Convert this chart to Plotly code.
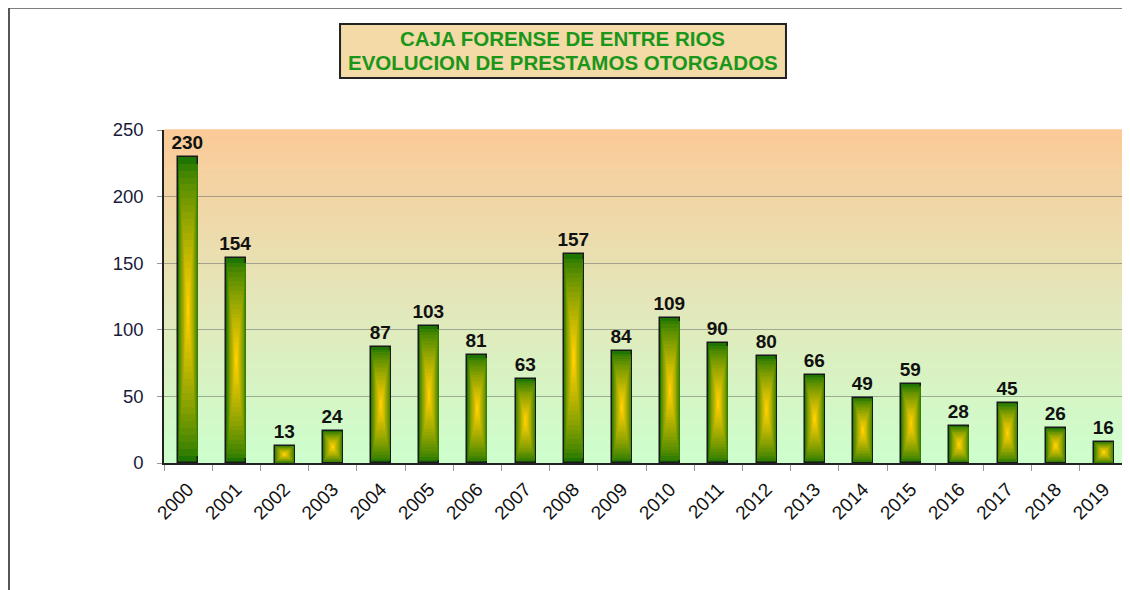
import plotly.graph_objects as go

years = [str(y) for y in range(2000, 2020)]
prestamos = [230, 154, 13, 24, 87, 103, 81, 63, 157, 84, 109, 90, 80, 66, 49, 59, 28, 45, 26, 16]
y_ticks = [0, 50, 100, 150, 200, 250]
title_lines = ["CAJA FORENSE DE ENTRE RIOS", "EVOLUCION DE PRESTAMOS OTORGADOS"]


def lerp(c1, c2, t):
    return "rgb(%d,%d,%d)" % tuple(round(a + (b - a) * t) for a, b in zip(c1, c2))


fig = go.Figure()

# bars drawn as concentric layers to imitate the centre-out gradient fill
n_layers = 22
bar_w = 0.415
edge = (30, 118, 0)
centre = (255, 208, 0)
for k in range(n_layers):
    frac = k / n_layers
    t = (k / (n_layers - 1)) ** 0.75
    fig.add_trace(go.Bar(
        x=years,
        y=[v * (1 - frac) for v in prestamos],
        base=[v * frac / 2 for v in prestamos],
        width=bar_w * (1 - frac),
        marker=dict(color=lerp(edge, centre, t),
                    line=dict(color="#1a1a1a", width=1.5 if k == 0 else 0)),
        text=[str(v) for v in prestamos] if k == 0 else None,
        textposition="outside" if k == 0 else None,
        textfont=dict(family="Arial", size=19, color="#111111"),
        texttemplate="<b>%{text}</b>" if k == 0 else None,
        constraintext="none",
        cliponaxis=False,
        showlegend=False,
        hoverinfo="skip",
    ))

# plot-area background gradient (peach at top to pale green at bottom)
top_c = (251, 202, 152)
mid_c = (228, 230, 185)
bot_c = (204, 255, 204)
strips = 60
for i in range(strips):
    t = i / (strips - 1)
    if t < 0.5:
        col = lerp(bot_c, mid_c, t / 0.5)
    else:
        col = lerp(mid_c, top_c, (t - 0.5) / 0.5)
    fig.add_shape(type="rect", xref="paper", yref="paper",
                  x0=0, x1=1, y0=i / strips, y1=(i + 1) / strips + 0.002,
                  fillcolor=col, line=dict(width=0), layer="below")

# outer frame (top and left edges visible)
fig.add_shape(type="line", xref="paper", yref="paper", x0=-0.1608, x1=1.01, y0=1.367, y1=1.367,
              line=dict(color="#555555", width=2))
fig.add_shape(type="line", xref="paper", yref="paper", x0=-0.1608, x1=-0.1608, y0=1.367, y1=-0.4,
              line=dict(color="#555555", width=2))

# title box
fig.add_shape(type="rect", xref="paper", yref="paper",
              x0=0.1826, x1=0.6452, y0=1.1562, y1=1.3183,
              fillcolor="#F3DAA6", line=dict(color="#222222", width=2))
for txt, yy in zip(title_lines, [1.2733, 1.2042]):
    fig.add_annotation(
        xref="paper", yref="paper", x=0.4139, y=yy, xanchor="center", yanchor="middle",
        text="<b>" + txt + "</b>",
        font=dict(family="Arial", size=20.5, color="#1A961A"),
        showarrow=False,
    )

fig.update_layout(
    width=1122, height=582,
    margin=dict(l=156, r=2, t=122, b=127),
    paper_bgcolor="white",
    plot_bgcolor="rgba(0,0,0,0)",
    barmode="overlay",
    bargap=0,
    font=dict(family="Arial"),
)
fig.update_xaxes(
    type="category",
    tickangle=-45,
    tickfont=dict(family="Arial", size=19, color="#111111"),
    showline=True, linecolor="#222222", linewidth=1.5,
    ticks="outside", ticklen=6, tickcolor="#999999",
    ticklabelstandoff=6,
    tickson="boundaries", showgrid=False,
)
fig.update_yaxes(
    range=[0, 250],
    tickvals=y_ticks,
    tickfont=dict(family="Arial", size=18.5, color="#1a1a3a"),
    showline=True, linecolor="#222222", linewidth=1.5,
    ticks="outside", ticklen=5, tickcolor="#999999",
    ticklabelstandoff=10,
    showgrid=True, gridcolor="rgba(110,110,110,0.55)", gridwidth=1,
    zeroline=False,
)

fig.write_html("out.html")
